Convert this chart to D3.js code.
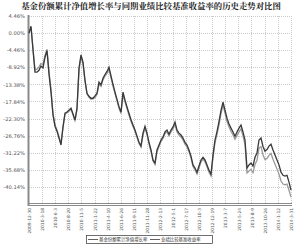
<!DOCTYPE html>
<html>
<head>
<meta charset="utf-8">
<script src="https://cdn.jsdelivr.net/npm/d3@7"></script>
<style>
  body { margin: 0; background: #fff; }
  svg { display: block; }
</style>
</head>
<body>
<div id="chart"></div>
<script>
// 累计净值增长率 vs 业绩比较基准 (percent)
const chartTitle = "基金份额累计净值增长率与同期业绩比较基准收益率的历史走势对比图";
const seriesNames = ["基金份额累计净值增长率", "业绩比较基准收益率"];
const startDate = "2009-12-30";
const endDate = "2014-03-31";

const xTickLabels = [
  "2009-12-30", "2010-3-18", "2010-6-3", "2010-8-20", "2010-11-5",
  "2011-1-22", "2011-4-10", "2011-6-26", "2011-9-11", "2011-11-28",
  "2012-2-13", "2012-5-1", "2012-7-17", "2012-10-3", "2012-12-19",
  "2013-3-7", "2013-5-24", "2013-8-9", "2013-10-26", "2014-1-12", "2014-3-31"
];

const yTicks = [4.46, 0, -4.46, -8.92, -13.38, -17.84, -22.30, -26.76, -31.22, -35.68, -40.14];

const fundValues = [
  0.0, 1.8, -4.4, -10.2, -10.2, -9.7, -8.6, -9.1, -6.3, -4.6,
  -10.7, -15.4, -21.4, -24.3, -25.6, -27.4, -29.2, -24.5, -20.9, -20.6,
  -20.1, -19.6, -21.1, -22.7, -19.6, -9.1, -5.7, -7.6, -12.3, -15.7,
  -16.5, -17.0, -17.0, -16.4, -15.7, -12.8, -13.5, -11.8, -10.8, -10.0,
  -8.9, -11.2, -13.4, -15.4, -17.3, -19.2, -20.6, -15.4, -17.5, -19.3,
  -21.0, -22.6, -24.0, -25.3, -26.9, -28.5, -29.4, -26.1, -24.3, -26.1,
  -28.5, -30.5, -33.1, -33.9, -30.5, -29.2, -27.9, -27.1, -25.8, -25.3,
  -26.4, -25.3, -24.5, -23.2, -25.3, -26.1, -26.6, -27.4, -28.5, -29.2,
  -30.5, -32.1, -34.4, -35.2, -36.3, -34.7, -33.1, -32.4, -33.1, -34.4,
  -35.8, -36.8, -31.8, -27.9, -25.7, -23.1, -20.2, -18.0, -20.1, -22.2,
  -23.7, -24.8, -25.8, -26.9, -25.8, -24.8, -24.0, -25.8, -27.9, -35.2,
  -34.4, -33.9, -34.7, -32.4, -31.3, -27.9, -27.4, -29.6, -30.8, -30.4,
  -29.5, -29.0, -30.5, -31.8, -33.1, -34.4, -36.3, -37.1, -37.3, -37.1,
  -38.9, -41.0
];

const benchValues = [
  0.0, 1.5, -4.0, -9.6, -9.4, -8.8, -7.9, -8.3, -5.8, -4.2,
  -10.0, -14.8, -20.9, -24.0, -25.3, -27.0, -28.8, -24.6, -21.2, -20.8,
  -20.4, -19.8, -21.3, -22.8, -20.0, -9.8, -6.2, -8.0, -12.6, -15.9,
  -16.8, -17.3, -17.2, -16.8, -16.0, -13.3, -13.9, -12.2, -11.2, -10.5,
  -9.4, -11.6, -13.8, -15.8, -17.7, -19.6, -21.0, -16.0, -18.0, -19.7,
  -21.4, -23.0, -24.4, -25.6, -27.2, -28.8, -29.8, -26.6, -24.8, -26.5,
  -28.9, -30.9, -33.4, -34.3, -31.0, -29.6, -28.3, -27.5, -26.2, -25.8,
  -26.8, -25.8, -25.0, -23.8, -25.8, -26.6, -27.1, -27.9, -29.0, -29.7,
  -31.0, -32.6, -34.8, -35.7, -36.8, -35.2, -33.6, -32.9, -33.6, -34.9,
  -36.3, -37.3, -32.5, -28.6, -26.4, -23.9, -21.0, -18.8, -20.9, -23.0,
  -24.5, -25.6, -26.6, -27.7, -26.7, -25.8, -25.0, -26.9, -29.0, -36.5,
  -36.0, -35.6, -36.4, -34.3, -33.2, -30.0, -29.6, -31.8, -33.0, -32.7,
  -31.9, -31.4, -32.9, -34.2, -35.5, -36.8, -38.6, -39.4, -39.6, -39.4,
  -41.0, -42.8
];

const width = 300, height = 246;
const margin = {top: 16, right: 9, bottom: 42, left: 29};
const parseDate = d3.timeParse("%Y-%m-%d");
const fontCJK = "'Noto Sans CJK SC', sans-serif";

const svg = d3.select("#chart").append("svg")
  .attr("width", width)
  .attr("height", height);

const x = d3.scaleTime()
  .domain([parseDate(startDate), parseDate(endDate)])
  .range([margin.left, width - margin.right]);

const y = d3.scaleLinear()
  .domain([-44.60, 4.46])
  .range([height - margin.bottom, margin.top]);

// each sample sits evenly along the period
const sampleDate = d3.scaleLinear()
  .domain([0, fundValues.length - 1])
  .range([parseDate(startDate), parseDate(endDate)]);

svg.append("text")
  .attr("x", 151)
  .attr("y", 9)
  .attr("text-anchor", "middle")
  .style("font-family", "'Noto Serif CJK SC', " + fontCJK)
  .style("font-weight", "bold")
  .style("font-size", "8.4px")
  .attr("fill", "#222")
  .text(chartTitle);

// grid
const grid = svg.append("g")
  .attr("stroke", "#a8a8a8")
  .attr("stroke-width", 0.6)
  .attr("stroke-dasharray", "1,1");

grid.selectAll("line.h")
  .data(yTicks).enter().append("line")
  .attr("x1", margin.left)
  .attr("x2", width - margin.right)
  .attr("y1", d => Math.round(y(d)) + 0.5)
  .attr("y2", d => Math.round(y(d)) + 0.5);

grid.selectAll("line.v")
  .data(xTickLabels.slice(1)).enter().append("line")
  .attr("x1", d => Math.round(x(parseDate(d))) + 0.5)
  .attr("x2", d => Math.round(x(parseDate(d))) + 0.5)
  .attr("y1", margin.top)
  .attr("y2", height - margin.bottom);

// y axis labels
const yAxis = d3.axisLeft(y)
  .tickValues(yTicks)
  .tickSize(0)
  .tickPadding(4)
  .tickFormat(d => d.toFixed(2) + "%");

svg.append("g")
  .attr("transform", `translate(${margin.left},0)`)
  .call(yAxis)
  .call(g => g.select(".domain").remove())
  .selectAll("text")
  .style("font-family", "'DejaVu Sans', sans-serif")
  .style("font-size", "5.2px")
  .attr("fill", "#555");

// x axis labels (rotated)
const xAxis = d3.axisBottom(x)
  .tickValues(xTickLabels.map(parseDate))
  .tickSize(0)
  .tickFormat((d, i) => xTickLabels[i]);

svg.append("g")
  .attr("transform", `translate(0,${height - margin.bottom})`)
  .call(xAxis)
  .call(g => g.select(".domain").remove())
  .selectAll("text")
  .attr("transform", "rotate(-90)")
  .attr("x", -4)
  .attr("y", 0)
  .attr("dy", "0.35em")
  .attr("text-anchor", "end")
  .style("font-family", "'DejaVu Sans', sans-serif")
  .style("font-size", "4.4px")
  .attr("fill", "#555");

// axis frame lines
svg.append("line")
  .attr("x1", margin.left - 0.5).attr("x2", margin.left - 0.5)
  .attr("y1", margin.top - 1).attr("y2", height - margin.bottom + 2)
  .attr("stroke", "#8a8a8a").attr("stroke-width", 2);

[0, 2].forEach(off => {
  svg.append("line")
    .attr("x1", margin.left - 1).attr("x2", width - margin.right + 1)
    .attr("y1", height - margin.bottom + off - 0.5)
    .attr("y2", height - margin.bottom + off - 0.5)
    .attr("stroke", "#8a8a8a").attr("stroke-width", 1);
});

const line = d3.line()
  .x((d, i) => x(sampleDate(i)))
  .y(d => y(d));

svg.append("path")
  .datum(benchValues)
  .attr("d", line)
  .attr("fill", "none")
  .attr("stroke", "#9a9a9a")
  .attr("stroke-width", 1.3);

svg.append("path")
  .datum(fundValues)
  .attr("d", line)
  .attr("fill", "none")
  .attr("stroke", "#3a3a3a")
  .attr("stroke-width", 1.3);

// legend
const legend = svg.append("g");
legend.append("rect")
  .attr("x", 86.5).attr("y", 235.5)
  .attr("width", 126).attr("height", 8)
  .attr("fill", "#fff")
  .attr("stroke", "#333")
  .attr("stroke-width", 0.7);

const legendItems = [
  {name: seriesNames[0], color: "#3a3a3a", x0: 88},
  {name: seriesNames[1], color: "#3a3a3a", x0: 150}
];

const li = legend.selectAll("g.item")
  .data(legendItems).enter().append("g");

li.append("line")
  .attr("x1", d => d.x0).attr("x2", d => d.x0 + 10)
  .attr("y1", 239.5).attr("y2", 239.5)
  .attr("stroke", d => d.color)
  .attr("stroke-width", 0.8);

li.append("text")
  .attr("x", d => d.x0 + 11)
  .attr("y", 239.5)
  .attr("dy", "0.35em")
  .style("font-family", fontCJK)
  .style("font-size", "4.4px")
  .attr("fill", "#333")
  .text(d => d.name);
</script>
</body>
</html>
